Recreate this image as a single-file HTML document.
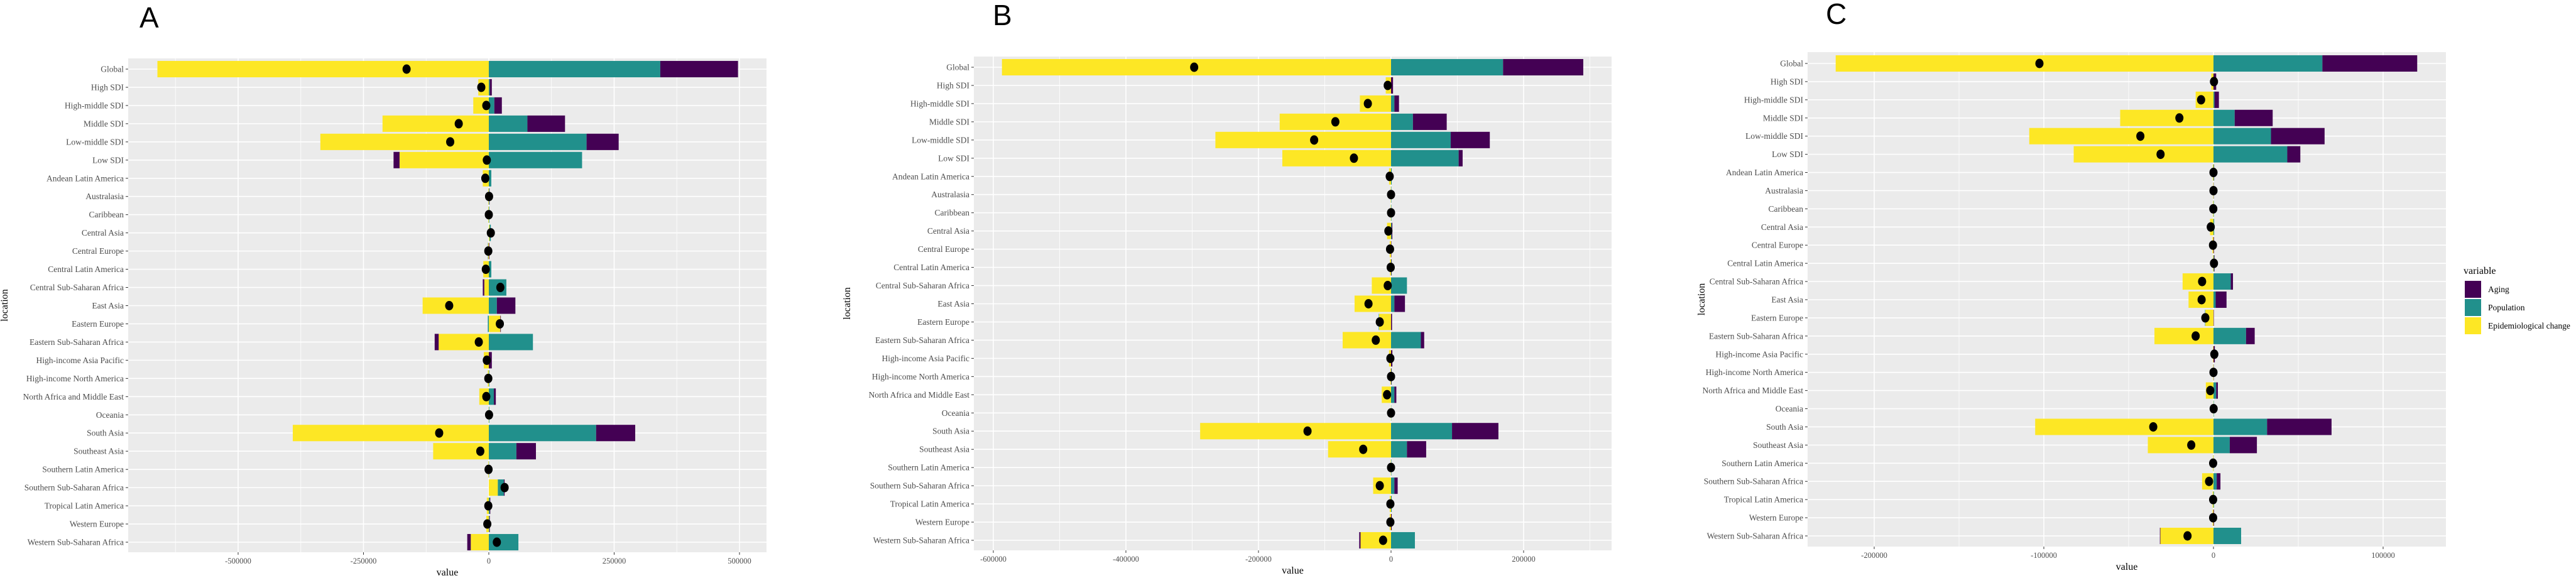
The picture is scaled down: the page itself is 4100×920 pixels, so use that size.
<!DOCTYPE html>
<html><head><meta charset="utf-8"><style>
html,body{margin:0;padding:0;background:#fff;}
svg{display:block;font-family:"Liberation Serif",serif;}
</style></head><body>
<svg id="chart" width="4100" height="920" viewBox="0 0 4100 920" xmlns="http://www.w3.org/2000/svg"></svg>
<script>
const locations = ["Global","High SDI","High-middle SDI","Middle SDI","Low-middle SDI","Low SDI","Andean Latin America","Australasia","Caribbean","Central Asia","Central Europe","Central Latin America","Central Sub-Saharan Africa","East Asia","Eastern Europe","Eastern Sub-Saharan Africa","High-income Asia Pacific","High-income North America","North Africa and Middle East","Oceania","South Asia","Southeast Asia","Southern Latin America","Southern Sub-Saharan Africa","Tropical Latin America","Western Europe","Western Sub-Saharan Africa"];
// Panel A
const epiA   = [-661000,-21000,-31000,-212000,-336000,-178000,-12000,-1000,-1000,1500,-1500,-11000,-9000,-132000,23000,-100000,-10000,-2000,-19000,-500,-391000,-111000,-1000,18000,-4000,-5000,-36000];
const popA   = [342000,2000,11000,77000,195000,186000,5000,1000,1000,2500,-500,5000,35000,16000,-2000,88000,0,1000,10000,1000,214000,55000,500,12000,2000,1000,59000];
const agingA = [155000,4000,15000,75000,64000,-12000,0,500,0,0,1000,0,-3000,37000,1000,-8000,6000,0,4000,0,78000,39000,0,1500,1000,1000,-7000];
// Panel B
const epiB   = [-587000,-8000,-47000,-168000,-265000,-164000,-3000,-500,-500,-6000,-2000,-1500,-29000,-55000,-18000,-73000,-3000,-1000,-14000,-300,-288000,-95000,-500,-27000,-2000,-2000,-46000];
const popB   = [169000,0,5000,33000,90000,102000,1000,500,500,1000,0,500,24000,5000,-500,45000,0,500,5000,300,92000,24000,500,5000,1000,0,36000];
const agingB = [121000,3000,7000,51000,59000,6000,0,0,0,1000,500,500,0,16000,1500,5000,2000,500,3000,0,70000,29000,0,5000,0,1000,-2000];
// Panel C
const epiC   = [-222700,-1300,-10500,-55000,-108600,-82400,-400,-200,-300,-2000,-600,-300,-18200,-14700,-4800,-34800,-300,-200,-4500,-100,-105100,-38700,-300,-6700,-500,-500,-31300];
const popC   = [64200,0,600,12500,33900,43500,300,100,200,400,0,300,10200,1300,-200,19200,0,100,1600,200,31600,9600,100,1900,300,0,16300];
const agingC = [55900,1600,2600,22400,31600,7700,100,100,0,0,300,300,1300,6400,200,5100,800,100,1000,0,38000,16000,0,2200,0,300,-300];
const ticksA = [-500000,-250000,0,250000,500000];
const ticksB = [-600000,-400000,-200000,0,200000];
const ticksC = [-200000,-100000,0,100000];
const seriesNames = ["Aging","Population","Epidemiological change"];

const COL = {Aging:"#440154",Population:"#21908C",Epi:"#FDE725"};
const NS = "http://www.w3.org/2000/svg";
const svg = document.getElementById("chart");
function mk(tag, attrs, parent){const e=document.createElementNS(NS,tag);for(const k in attrs)e.setAttribute(k,attrs[k]);(parent||svg).appendChild(e);return e;}

function panel(cfg){
  const g = mk("g",{});
  
  
  const xs = v => cfg.zeroX + v*cfg.k;
  const n = locations.length;
  const step = (cfg.lastY-cfg.firstY)/(n-1);
  const ys = i => cfg.firstY + i*step;
  const title = mk("text",{x:cfg.titleX,y:cfg.titleY,"font-family":"Liberation Sans, sans-serif","font-size":46,fill:"#000"},g);
  title.textContent = cfg.letter;
  
  
  const bg = mk("rect",{x:cfg.left,y:cfg.top,width:cfg.right-cfg.left,height:cfg.bottom-cfg.top,fill:"#EBEBEB"},g);
  
  
  // minor grid
  const t = cfg.ticks; const d = t[1]-t[0];
  for(let v=t[0]-d/2; v<=t[t.length-1]+d; v+=d){const x=xs(v); if(x>cfg.left&&x<cfg.right){const l=mk("line",{x1:x,x2:x,y1:cfg.top,y2:cfg.bottom,stroke:"#fff","stroke-width":0.8},g);}}
  t.forEach(v=>{const x=xs(v);const l=mk("line",{x1:x,x2:x,y1:cfg.top,y2:cfg.bottom,stroke:"#fff","stroke-width":1.6},g);
    const tk=mk("line",{x1:x,x2:x,y1:cfg.bottom,y2:cfg.bottom+4,stroke:"#333","stroke-width":1},g);
    const tl=mk("text",{x:x,y:cfg.bottom+18,"text-anchor":"middle","font-size":12.5,fill:"#4D4D4D"},g);tl.textContent=String(v);});
  locations.forEach((loc,i)=>{const y=ys(i);
    const l=mk("line",{x1:cfg.left,x2:cfg.right,y1:y,y2:y,stroke:"#fff","stroke-width":1.6},g);
    const tk=mk("line",{x1:cfg.left-4,x2:cfg.left,y1:y,y2:y,stroke:"#333","stroke-width":1},g);
    const tl=mk("text",{x:cfg.left-7,y:y+4.5,"text-anchor":"end","font-size":13.5,fill:"#4D4D4D"},g);tl.textContent=loc;});
  const bh = step*0.9;
  locations.forEach((loc,i)=>{
    const y=ys(i); let pos=0, neg=0;
    const vals=[["Epi",cfg.epi[i]],["Population",cfg.pop[i]],["Aging",cfg.aging[i]]];
    vals.forEach(([nm,v])=>{
      let a,b; if(v>=0){a=pos;b=pos+v;pos=b;}else{a=neg;b=neg+v;neg=b;}
      const x1=xs(Math.min(a,b)), x2=xs(Math.max(a,b));
      const r=mk("rect",{x:x1,y:y-bh/2,width:Math.max(0,x2-x1),height:bh,fill:COL[nm]},g);
      
      
    });
    const tot=cfg.epi[i]+cfg.pop[i]+cfg.aging[i];
    const c=mk("ellipse",{cx:xs(tot),cy:y,rx:6.5,ry:7.5,fill:"#000"},g);
    
    
  });
  const xt=mk("text",{x:(cfg.left+cfg.right)/2,y:cfg.bottom+37,"text-anchor":"middle","font-size":16,fill:"#000"},g);xt.textContent="value";
  const yt=mk("text",{x:0,y:0,"text-anchor":"middle","font-size":16,fill:"#000",transform:`translate(${cfg.yTitleX},${(cfg.top+cfg.bottom)/2}) rotate(-90)`},g);yt.textContent="location";
}

panel({letter:"A",titleX:222,titleY:44,left:204,right:1220,top:93,bottom:879,zeroX:778,k:0.000798,firstY:110,lastY:863,ticks:ticksA,epi:epiA,pop:popA,aging:agingA,yTitleX:12});
panel({letter:"B",titleX:1580,titleY:40,left:1550,right:2565,top:90,bottom:876,zeroX:2214,k:0.001055,firstY:107,lastY:860,ticks:ticksB,epi:epiB,pop:popB,aging:agingB,yTitleX:1353});
panel({letter:"C",titleX:2906,titleY:38,left:2877,right:3893,top:83,bottom:870,zeroX:3523,k:0.0027,firstY:101,lastY:853,ticks:ticksC,epi:epiC,pop:popC,aging:agingC,yTitleX:2713});

// legend
const lg = mk("g",{});


const lt = mk("text",{x:3921,y:436,"font-size":16,fill:"#000"},lg);
lt.textContent="variable";


const lcols=[COL.Aging,COL.Population,COL.Epi];
seriesNames.forEach((s,i)=>{
  const y=447+i*29;
  const r=mk("rect",{x:3923,y:y,width:26,height:27,fill:lcols[i]},lg);
  
  
  const t=mk("text",{x:3960,y:y+18,"font-size":13.5,fill:"#000"},lg);
  t.textContent=s;
  
  
});
</script>
</body></html>
